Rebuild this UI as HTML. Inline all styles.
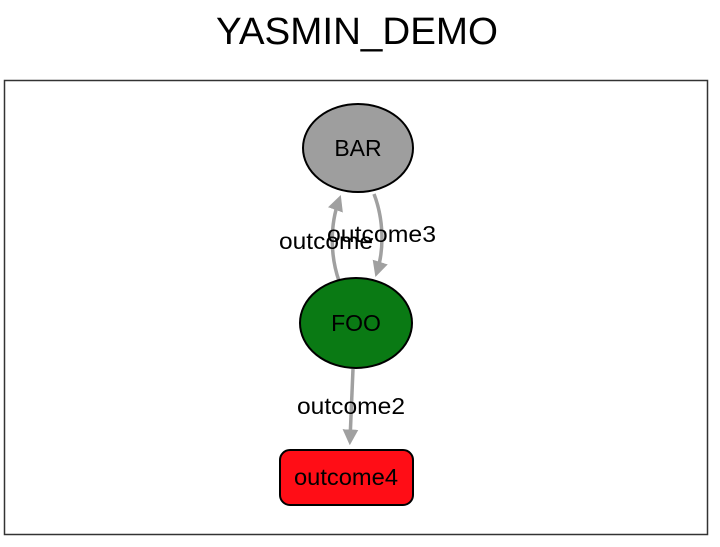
<!DOCTYPE html>
<html><head><style>
html,body{margin:0;padding:0;background:#fff;}
svg{display:block;}
text{font-family:"Liberation Sans",sans-serif;}
</style></head><body>
<svg width="720" height="547" viewBox="0 0 720 547">
<text x="357" y="44" font-size="38" text-anchor="middle" textLength="282" lengthAdjust="spacingAndGlyphs" fill="#000">YASMIN_DEMO</text>
<rect x="4.5" y="80.5" width="703" height="454" fill="#fff" stroke="#333" stroke-width="1.5"/>
<defs><marker id="a" markerWidth="4.5" markerHeight="4.5" refX="3" refY="2.25" orient="auto" markerUnits="strokeWidth"><path d="M0,0 L4.5,2.25 L0,4.5 z" fill="#a0a0a0"/></marker></defs>
<g fill="none" stroke="#a0a0a0" stroke-width="3.5">
<path d="M339,281 C330,255 330,225 339,200" marker-end="url(#a)"/>
<path d="M374,194 C384,220 384,250 377,272" marker-end="url(#a)"/>
<path d="M353,369 L350,440" marker-end="url(#a)"/>
</g>
<ellipse cx="358" cy="148" rx="55" ry="44" fill="#9e9e9e" stroke="#000" stroke-width="2"/>
<text x="358" y="156" font-size="23" text-anchor="middle">BAR</text>
<ellipse cx="356" cy="323" rx="56" ry="45" fill="#0a7a14" stroke="#000" stroke-width="2"/>
<text x="356" y="331" font-size="23" text-anchor="middle">FOO</text>
<rect x="280" y="450" width="133" height="55" rx="10" fill="#ff0d16" stroke="#000" stroke-width="2"/>
<text x="346" y="485" font-size="23" text-anchor="middle" textLength="104" lengthAdjust="spacingAndGlyphs">outcome4</text>
<text x="279" y="249" font-size="23" textLength="94" lengthAdjust="spacingAndGlyphs">outcome</text>
<text x="327" y="242" font-size="23" textLength="109" lengthAdjust="spacingAndGlyphs">outcome3</text>
<text x="297" y="414" font-size="23" textLength="108" lengthAdjust="spacingAndGlyphs">outcome2</text>
</svg>
</body></html>
